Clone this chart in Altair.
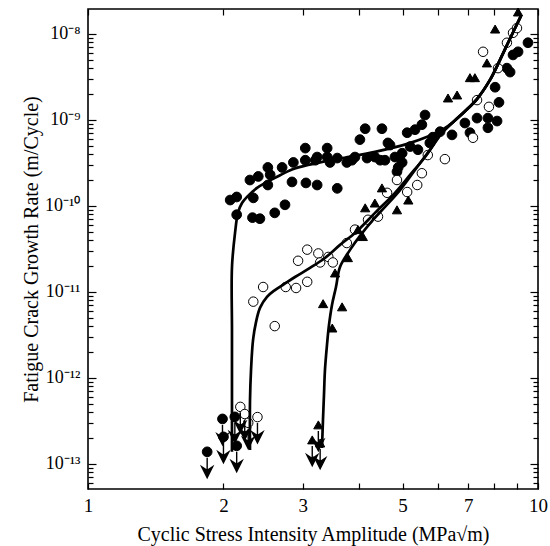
import altair as alt
import pandas as pd

FONT = "Liberation Serif"
ENVS = ["Ambient Air", "Dry Air", "Vacuum"]

# (stress intensity amplitude MPa√m, growth rate m/cycle)
AMBIENT = [(2.07,1.17e-10),(2.14,1.27e-10),(2.14,7.9e-11),(2.32,7.3e-11),(2.41,7.1e-11),(2.29,2.0e-10),
           (2.39,2.2e-10),(2.51,2.8e-10),(2.54,2.3e-10),(2.51,1.75e-10),(2.33,1.24e-10),(2.70,2.8e-10),
           (2.86,3.2e-10),(3.04,3.4e-10),(3.04,4.7e-10),(3.23,3.7e-10),(3.40,4.7e-10),(3.40,3.7e-10),
           (3.58,3.6e-10),(3.76,3.2e-10),(3.92,3.7e-10),(4.02,5.9e-10),(4.13,7.9e-10),(4.50,7.9e-10),
           (4.17,3.6e-10),(4.34,3.7e-10),(4.57,3.4e-10),(4.69,5.1e-10),(2.84,1.9e-10),(3.05,1.85e-10),
           (3.23,1.75e-10),(3.58,1.6e-10),(2.60,8.3e-11),(2.74,1.03e-10),(4.81,3.7e-10),(4.89,2.8e-10),
           (4.99,3.2e-10),(5.12,7.1e-10),(5.20,4.9e-10),(5.33,7.7e-10),(5.52,8.8e-10),(5.61,1.14e-9),
           (5.75,5.4e-10),(5.84,6.3e-10),(6.06,7.3e-10),(4.99,4.1e-10),(4.86,2.5e-10),(6.44,6.7e-10),
           (6.88,9.2e-10),(7.06,7.1e-10),(7.32,1.05e-9),(7.74,1.05e-9),(8.11,9.7e-10),(7.74,8.1e-10),
           (8.03,2.4e-9),(8.19,1.6e-9),(8.53,4.0e-9),(8.67,3.6e-9),(8.80,5.7e-9),(9.03,6.2e-9),
           (9.50,7.9e-9),(3.20,3.4e-10),(3.45,3.2e-10),(3.86,3.4e-10),(4.46,3.4e-10),(4.64,5.4e-10),
           (5.41,4.5e-10)]
DRY = [(2.33,7.7e-12),(2.45,1.14e-11),(2.60,4.0e-12),(2.75,1.14e-11),(2.90,1.11e-11),(3.07,1.31e-11),
       (2.93,2.3e-11),(3.07,3.1e-11),(3.25,2.8e-11),(3.28,2.2e-11),(3.42,2.55e-11),(3.50,2.2e-11),
       (3.76,3.7e-11),(3.92,5.3e-11),(4.19,6.9e-11),(4.41,7.5e-11),(4.62,1.42e-10),(4.86,2.0e-10),
       (5.12,1.45e-10),(5.39,1.75e-10),(5.52,2.4e-10),(5.69,3.9e-10),(6.21,3.5e-10),(7.17,6.2e-10),
       (7.32,1.7e-9),(7.78,1.42e-9),(7.55,6.2e-9),(8.15,4.0e-9),(8.53,7.9e-9),(8.80,1.03e-8),
       (8.98,1.17e-8)]
VACUUM = [(3.49,3.8e-12),(3.33,7.3e-12),(3.67,6.7e-12),(3.54,1.66e-11),(3.78,2.5e-11),(3.98,5.3e-11),
          (4.08,4.4e-11),(4.13,9.5e-11),(4.34,1.08e-10),(4.50,1.62e-10),(4.86,9.0e-11),(5.15,1.17e-10),
          (6.31,1.8e-9),(6.61,1.95e-9),(7.06,3.1e-9),(7.24,3.1e-9),(7.70,4.6e-9),(8.03,1.14e-8),
          (9.03,1.8e-8)]

# upper-bound (no growth detected) points, drawn with down arrows
AMBIENT_BOUND = [(1.84,1.38e-13),(1.99,3.33e-13),(2.00,2.06e-13),(2.12,3.52e-13),(2.14,1.62e-13)]
DRY_BOUND = [(2.18,4.6e-13),(2.23,3.8e-13),(2.27,3.0e-13),(2.38,3.5e-13)]
VACUUM_BOUND = [(3.25,2.84e-13),(3.15,1.90e-13),(3.28,1.75e-13)]

# fitted curves
AMBIENT_CURVE = [(2.089,1.38e-13),(2.089,5.5e-13),(2.089,3.6e-12),(2.089,1.95e-11),(2.122,4.85e-11),
                 (2.154,8.3e-11),(2.199,1.08e-10),(2.256,1.27e-10),(2.375,1.62e-10),(2.499,1.90e-10),
                 (2.603,2.12e-10),(2.840,2.65e-10),(3.083,3.0e-10),(3.669,3.6e-10),(4.343,4.25e-10),
                 (5.143,5.3e-10),(5.694,6.4e-10),(6.119,7.65e-10),(6.500,9.6e-10),(6.900,1.28e-9),
                 (7.318,1.75e-9),(7.822,2.92e-9),(8.234,5.0e-9),(8.665,8.8e-9),(9.167,1.62e-8)]
DRY_CURVE = [(2.291,1.45e-13),(2.291,5.5e-13),(2.303,1.24e-12),(2.327,2.77e-12),(2.363,4.48e-12),
             (2.411,6.52e-12),(2.499,8.75e-12),(2.603,1.05e-11),(2.713,1.21e-11),(2.884,1.49e-11),
             (3.114,1.90e-11),(3.362,2.48e-11),(3.631,3.52e-11),(3.921,4.85e-11),(4.343,8.29e-11),
             (4.811,1.42e-10),(5.196,2.29e-10),(5.609,3.71e-10),(6.119,7.06e-10),(6.500,9.6e-10),
             (6.900,1.28e-9),(7.318,1.75e-9),(7.822,2.92e-9),(8.234,5.0e-9),(8.665,8.8e-9),
             (9.167,1.62e-8)]
VACUUM_CURVE = [(3.311,1.53e-13),(3.328,3.25e-13),(3.345,6.34e-13),(3.362,1.24e-12),(3.397,2.42e-12),
                (3.432,4.13e-12),(3.485,7.06e-12),(3.557,1.14e-11),(3.631,1.95e-11),(3.822,3.08e-11),
                (4.022,4.48e-11),(4.299,6.87e-11),(4.571,9.74e-11),(4.936,1.53e-10),(5.330,2.62e-10),
                (5.754,4.48e-10),(6.119,7.06e-10),(6.500,9.6e-10),(6.900,1.28e-9),(7.318,1.75e-9),
                (7.822,2.92e-9),(8.234,5.0e-9),(8.665,8.8e-9),(9.167,1.62e-8)]

X_TICKS = [1, 2, 3, 4, 5, 6, 7, 8, 9, 10]
X_LABELED = [1, 2, 3, 5, 7, 10]
Y_MAJOR = [1e-13, 1e-12, 1e-11, 1e-10, 1e-9, 1e-8]
Y_DOMAIN = [5.1e-14, 1.95e-8]
Y_MINOR = [round(m * 10.0 ** e, 16 - e) for e in range(-14, -7) for m in range(2, 10)
           if Y_DOMAIN[0] <= m * 10.0 ** e <= Y_DOMAIN[1]]

ARROW = "M0,1 L0,3.4 M-0.9,2.5 L0,4.3 L0.9,2.5 L0,3.1 Z"

rows = []
for env, arr in zip(ENVS, [AMBIENT + AMBIENT_BOUND, DRY + DRY_BOUND, VACUUM + VACUUM_BOUND]):
    for k, r in arr:
        rows.append({"K": k, "R": r, "env": env})
pts = pd.DataFrame(rows)
bounds = pd.DataFrame([{"K": k, "R": r} for k, r in AMBIENT_BOUND + DRY_BOUND + VACUUM_BOUND])


def curve_df(arr):
    return pd.DataFrame([{"K": k, "R": r, "i": i} for i, (k, r) in enumerate(arr)])


xs = alt.Scale(type="log", domain=[1, 10], nice=False)
ys = alt.Scale(type="log", domain=Y_DOMAIN, nice=False)

y_label_expr = ("datum.value > 5e-9 ? '10⁻⁸' : datum.value > 5e-10 ? '10⁻⁹' : "
                "datum.value > 5e-11 ? '10⁻¹⁰' : datum.value > 5e-12 ? '10⁻¹¹' : "
                "datum.value > 5e-13 ? '10⁻¹²' : '10⁻¹³'")
x_label_expr = "indexof([1,2,3,5,7,10], datum.value) >= 0 ? format(datum.value, 'd') : ''"

common = dict(domain=False, grid=False, tickWidth=1.2, tickColor="black", labelFlush=False,
              labelOverlap=False, ticks=True)

# negative tick sizes (via expressions) draw the ticks inward, as in the reference
ax_bottom = alt.Axis(orient="bottom", values=X_TICKS, tickSize=alt.ExprRef("-6"),
                     labelExpr=x_label_expr,
                     labelFont=FONT, labelFontSize=19, labelColor="black", labelPadding=13,
                     title="Cyclic Stress Intensity Amplitude (MPa√m)", titleFont=FONT,
                     titleFontSize=20, titleFontWeight="normal", titleColor="black", titlePadding=9,
                     **common)
ax_top = alt.Axis(orient="top", values=X_TICKS, tickSize=alt.ExprRef("-6"),
                  labels=False, title=None, **common)
ay_left = alt.Axis(orient="left", values=Y_MAJOR, tickSize=alt.ExprRef("-8"),
                   labelExpr=y_label_expr,
                   labelFont=FONT, labelFontSize=18, labelColor="black", labelPadding=16,
                   title="Fatigue Crack Growth Rate (m/Cycle)", titleFont=FONT, titleFontSize=20,
                   titleFontWeight="normal", titleColor="black", titlePadding=3, **common)
ay_left_minor = alt.Axis(orient="left", values=Y_MINOR, tickSize=alt.ExprRef("-5"),
                         labels=False, title=None, **common)
ay_right = alt.Axis(orient="right", values=Y_MAJOR, tickSize=alt.ExprRef("-8"),
                    labels=False, title=None, **common)
ay_right_minor = alt.Axis(orient="right", values=Y_MINOR, tickSize=alt.ExprRef("-5"),
                          labels=False, title=None, **common)

legend = alt.Legend(title=None, orient="none", legendX=22, legendY=18, padding=8, symbolOffset=20,
                    labelOffset=21, labelFont=FONT, labelFontSize=20, labelColor="black",
                    rowPadding=0, symbolSize=95, symbolStrokeWidth=1, symbolStrokeColor="black",
                    strokeColor="black", fillColor="white")

points = alt.Chart(pts).mark_point(filled=False, strokeWidth=1, opacity=1).encode(
    x=alt.X("K:Q", scale=xs, axis=ax_bottom),
    y=alt.Y("R:Q", scale=ys, axis=ay_left),
    shape=alt.Shape("env:N", scale=alt.Scale(domain=ENVS, range=["circle", "circle", "triangle-up"]),
                    legend=legend),
    fill=alt.Fill("env:N", scale=alt.Scale(domain=ENVS, range=["black", "white", "black"]),
                  legend=legend),
    stroke=alt.Stroke("env:N", scale=alt.Scale(domain=ENVS, range=["black", "black", "black"]),
                      legend=legend),
    size=alt.Size("env:N", scale=alt.Scale(domain=ENVS, range=[95, 85, 130]), legend=None),
)


def curve_layer(arr, xaxis, yaxis):
    return alt.Chart(curve_df(arr)).mark_line(color="black", strokeWidth=2.7,
                                              interpolate="catmull-rom").encode(
        x=alt.X("K:Q", scale=xs, axis=xaxis),
        y=alt.Y("R:Q", scale=ys, axis=yaxis),
        order="i:Q",
    )


c1 = curve_layer(AMBIENT_CURVE, None, None)
c2 = curve_layer(DRY_CURVE, None, ay_right)
c3 = curve_layer(VACUUM_CURVE, None, ay_right_minor)

arrows = alt.Chart(bounds).mark_point(shape=ARROW, size=144, filled=True, fill="black",
                                      stroke="black", strokeWidth=1.4, opacity=1).encode(
    x=alt.X("K:Q", scale=xs, axis=ax_top),
    y=alt.Y("R:Q", scale=ys, axis=ay_left_minor),
)

chart = alt.layer(points, c1, c2, c3, arrows).resolve_axis(
    x="independent", y="independent"
).properties(
    width=450, height=480,
    autosize=alt.AutoSizeParams(type="none"),
    padding={"left": 88, "top": 9, "right": 12, "bottom": 57},
    background="white",
).configure_view(stroke="black", strokeWidth=1.6)

chart.save("out.html", embed_options={"renderer": "svg", "actions": False})
